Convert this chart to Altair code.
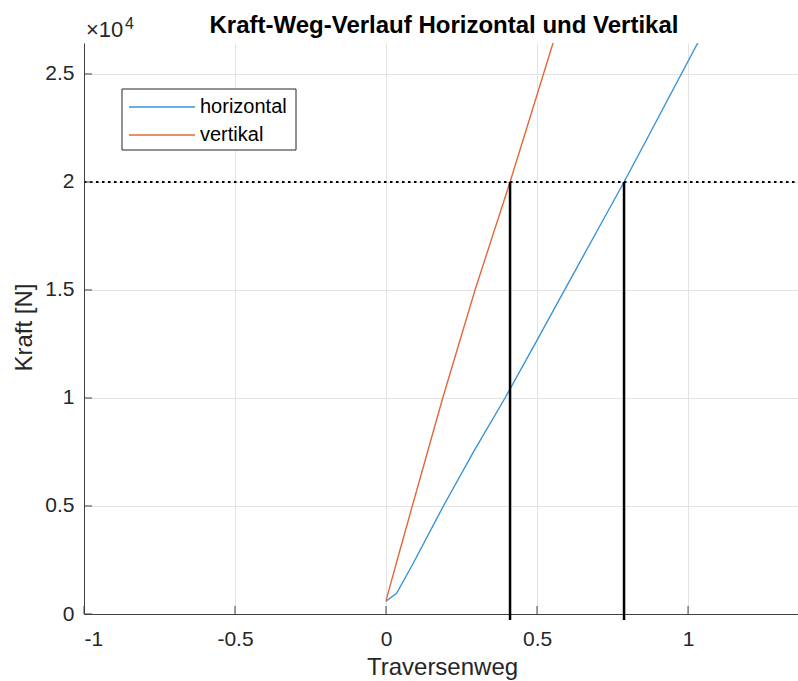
import altair as alt
import pandas as pd

# ---- data ----
series = ["horizontal", "vertikal"]
colors = ["#3C93D4", "#E2683A"]

x_h = [0.0, 0.002, 0.035, 0.09, 0.190, 0.29, 0.394, 0.497, 0.595, 0.695, 0.788, 0.83, 1.032, 1.06]
y_h = [570, 620, 960, 2350, 5000, 7520, 10000, 12600, 15100, 17640, 20000, 21100, 26435, 27200]

x_v = [0.0, 0.04, 0.087, 0.1877, 0.2947, 0.4106, 0.553, 0.57]
y_v = [620, 2650, 5000, 10000, 15000, 20000, 26435, 27200]

x_marks = [0.4106, 0.788]
y_level = 20000
vline_bottom = -280

xticks = [-1, -0.5, 0, 0.5, 1]
yticks = [0, 5000, 10000, 15000, 20000, 25000]

X_DOMAIN = [-1, 1.364]
Y_DOMAIN = [0, 26435]

W, H = 714, 571
INK = "#262626"
FONT = "Liberation Sans"

rows = []
for i, (xx, yy) in enumerate(zip(x_h, y_h)):
    rows.append({"x": xx, "y": yy, "series": series[0], "idx": i})
for i, (xx, yy) in enumerate(zip(x_v, y_v)):
    rows.append({"x": xx, "y": yy, "series": series[1], "idx": i})
df = pd.DataFrame(rows)

xs = alt.Scale(domain=X_DOMAIN, nice=False, zero=False)
ys = alt.Scale(domain=Y_DOMAIN, nice=False, zero=False)

xaxis = alt.Axis(
    values=xticks, labelExpr="'' + datum.value", grid=True, gridColor="#e3e3e3",
    tickSize=0, ticks=False, domainColor="#404040", domainWidth=1, labelFontSize=21,
    labelColor=INK, labelPadding=14, labelFont=FONT,
    title="Traversenweg", titleFont=FONT, titleFontSize=24, titleFontWeight="normal",
    titleColor=INK, titleX=358, titleY=60, titleBaseline="alphabetic", titleAlign="center",
)
yaxis = alt.Axis(
    values=yticks, labelExpr="'' + (datum.value / 10000)", grid=True, gridColor="#e3e3e3",
    tickSize=0, ticks=False, domainColor="#404040", domainWidth=1, labelFontSize=21,
    labelColor=INK, labelPadding=10, labelFont=FONT,
    title="Kraft [N]", titleFont=FONT, titleFontSize=24, titleFontWeight="normal",
    titleColor=INK, titleX=-53, titleY=284, titleAngle=270, titleBaseline="alphabetic",
    titleAlign="center",
)

lines = alt.Chart(df).mark_line(clip=True, strokeWidth=1.4).encode(
    x=alt.X("x:Q", scale=xs, axis=xaxis),
    y=alt.Y("y:Q", scale=ys, axis=yaxis),
    color=alt.Color("series:N", scale=alt.Scale(domain=series, range=colors), legend=None),
    order="idx:Q",
)

hline = alt.Chart(pd.DataFrame({"y": [y_level], "x": [X_DOMAIN[0]], "x2": [X_DOMAIN[1]]})).mark_rule(
    color="black", strokeWidth=2, strokeDash=[2.5, 3.5]
).encode(
    x=alt.X("x:Q", scale=xs), x2="x2:Q",
    y=alt.Y("y:Q", scale=ys),
)

vlines = alt.Chart(pd.DataFrame({"x": x_marks, "y": [vline_bottom] * 2, "y2": [y_level] * 2})).mark_rule(
    color="black", strokeWidth=2.5
).encode(
    x=alt.X("x:Q", scale=xs),
    y=alt.Y("y:Q", scale=ys), y2="y2:Q",
)

xtick_marks = alt.Chart(pd.DataFrame({"x": xticks})).mark_rule(color="#404040", strokeWidth=1).encode(
    x=alt.X("x:Q", scale=xs), y=alt.value(H), y2=alt.value(H - 8),
)
ytick_marks = alt.Chart(pd.DataFrame({"y": yticks})).mark_rule(color="#404040", strokeWidth=1).encode(
    y=alt.Y("y:Q", scale=ys), x=alt.value(0), x2=alt.value(8),
)

dummy = pd.DataFrame({"a": [0]})

title = alt.Chart(dummy).mark_text(
    text="Kraft-Weg-Verlauf Horizontal und Vertikal", font=FONT, fontSize=24,
    fontWeight="bold", color="black", align="center", baseline="alphabetic",
).encode(x=alt.value(360), y=alt.value(-10))

exp_base = alt.Chart(dummy).mark_text(
    text="×10", font=FONT, fontSize=22, color=INK, align="left", baseline="alphabetic",
).encode(x=alt.value(2), y=alt.value(-6))
exp_sup = alt.Chart(dummy).mark_text(
    text="4", font=FONT, fontSize=16, color=INK, align="left", baseline="alphabetic",
).encode(x=alt.value(41), y=alt.value(-14))

legend_box = alt.Chart(dummy).mark_rect(fill="white", stroke=INK, strokeWidth=1).encode(
    x=alt.value(38), x2=alt.value(212), y=alt.value(46), y2=alt.value(107),
)
legend_layers = []
for i, (s, c) in enumerate(zip(series, colors)):
    yy = 64 + 28 * i
    legend_layers.append(
        alt.Chart(dummy).mark_rule(color=c, strokeWidth=1.4).encode(
            x=alt.value(45), x2=alt.value(111), y=alt.value(yy),
        )
    )
    legend_layers.append(
        alt.Chart(dummy).mark_text(
            text=s, font=FONT, fontSize=20, color="black", align="left", baseline="middle",
        ).encode(x=alt.value(116), y=alt.value(yy))
    )

chart = alt.layer(
    lines, hline, vlines, xtick_marks, ytick_marks, title, exp_base, exp_sup,
    legend_box, *legend_layers,
).properties(
    width=W, height=H,
    padding={"left": 84, "top": 43, "right": 0, "bottom": 67},
    autosize=alt.AutoSizeParams(type="none"),
    background="white",
).configure_view(stroke=None)

chart.save("out.html", embed_options={"renderer": "svg", "actions": False})
